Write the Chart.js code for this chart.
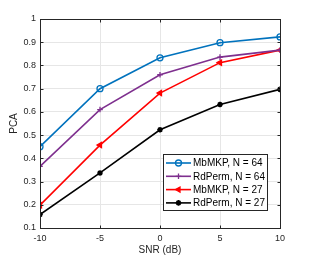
<!DOCTYPE html>
<html>
<head>
<meta charset="utf-8">
<script src="https://cdn.jsdelivr.net/npm/chart.js@4/dist/chart.umd.min.js"></script>
<style>
  html, body { margin: 0; padding: 0; background: #fff; }
  #wrap { width: 309px; height: 257px; }
</style>
</head>
<body>
<div id="wrap"><canvas id="pca-chart" width="309" height="257"></canvas></div>
<script>
// SNR values (dB) and PCA for each method
const snr = [-10, -5, 0, 5, 10];
const mbmkp64 = [0.450, 0.700, 0.833, 0.898, 0.923];
const rdperm64 = [0.365, 0.610, 0.760, 0.836, 0.866];
const mbmkp27 = [0.198, 0.457, 0.681, 0.812, 0.866];
const rdperm27 = [0.158, 0.337, 0.523, 0.632, 0.697];

const seriesNames = ['MbMKP, N = 64', 'RdPerm, N = 64', 'MbMKP, N = 27', 'RdPerm, N = 27'];

const textColor = '#262626';

function makeSet(label, values, color, style, extra) {
    return Object.assign({
        label: label,
        data: snr.map((x, i) => ({ x: x, y: values[i] })),
        borderColor: color,
        backgroundColor: color,
        borderWidth: 1.6,
        pointStyle: style,
        pointRadius: 2.8,
        pointBorderColor: color,
        pointBackgroundColor: color,
        pointBorderWidth: 1.3,
        tension: 0
    }, extra || {});
}

const datasets = [
    makeSet(seriesNames[0], mbmkp64, '#0072BD', 'circle', { pointBackgroundColor: 'rgba(0,0,0,0)', pointRadius: 3 }),
    makeSet(seriesNames[1], rdperm64, '#7E2F8E', 'cross', { pointRadius: 2.8 }),
    makeSet(seriesNames[2], mbmkp27, '#FF0000', 'triangle', { pointRotation: -90, pointRadius: 3 }),
    makeSet(seriesNames[3], rdperm27, '#000000', 'star', { pointRadius: 2.8, pointBorderWidth: 1.6 })
];

// box round the plot area, inward ticks, and an in-plot legend at the lower right
const boxLegendPlugin = {
    id: 'boxLegend',
    afterDraw: function(chart) {
        const ctx = chart.ctx;
        const a = chart.chartArea;
        const left = Math.round(a.left) + 0.5, top = Math.round(a.top) + 0.5;
        const right = Math.round(a.right) + 0.5, bottom = Math.round(a.bottom) + 0.5;
        ctx.save();
        ctx.strokeStyle = textColor;
        ctx.lineWidth = 1;
        ctx.strokeRect(left, top, right - left, bottom - top);

        // tick marks pointing into the plot
        const tl = 3;
        ctx.beginPath();
        chart.scales.x.ticks.forEach(t => {
            const px = Math.round(chart.scales.x.getPixelForValue(t.value)) + 0.5;
            ctx.moveTo(px, bottom); ctx.lineTo(px, bottom - tl);
            ctx.moveTo(px, top); ctx.lineTo(px, top + tl);
        });
        chart.scales.y.ticks.forEach(t => {
            const py = Math.round(chart.scales.y.getPixelForValue(t.value)) + 0.5;
            ctx.moveTo(left, py); ctx.lineTo(left + tl, py);
            ctx.moveTo(right, py); ctx.lineTo(right - tl, py);
        });
        ctx.stroke();

        // legend
        const lx = 163, ly = 154, lw = 104, lh = 56;
        ctx.fillStyle = '#fff';
        ctx.fillRect(lx, ly, lw, lh);
        ctx.strokeStyle = textColor;
        ctx.strokeRect(lx + 0.5, ly + 0.5, lw, lh);
        ctx.font = '10px Arial, "Liberation Sans", sans-serif';
        ctx.textBaseline = 'middle';
        chart.data.datasets.forEach((ds, i) => {
            const y = ly + 9 + i * 13.3;
            ctx.strokeStyle = ds.borderColor;
            ctx.lineWidth = 1.6;
            ctx.beginPath();
            ctx.moveTo(lx + 3, y);
            ctx.lineTo(lx + 28, y);
            ctx.stroke();
            ctx.fillStyle = ds.pointBackgroundColor;
            ctx.strokeStyle = ds.pointBorderColor;
            ctx.lineWidth = ds.pointBorderWidth;
            Chart.helpers.drawPoint(ctx, {
                pointStyle: ds.pointStyle,
                radius: ds.pointRadius,
                rotation: ds.pointRotation || 0,
                borderWidth: ds.pointBorderWidth
            }, lx + 15.5, y);
            ctx.fillStyle = '#000';
            ctx.fillText(ds.label, lx + 30, y + 0.5);
        });
        ctx.restore();
    }
};

new Chart(document.getElementById('pca-chart').getContext('2d'), {
    type: 'line',
    data: { datasets: datasets },
    plugins: [boxLegendPlugin],
    options: {
        responsive: false,
        animation: false,
        layout: { padding: { top: 19, right: 29, left: 8, bottom: 0 } },
        plugins: {
            legend: { display: false },
            tooltip: { enabled: false }
        },
        scales: {
            x: {
                type: 'linear',
                min: -10,
                max: 10,
                ticks: { stepSize: 5, color: textColor, font: { size: 9, family: 'Arial' }, padding: 5 },
                grid: { color: '#e6e6e6', drawTicks: false },
                border: { display: false },
                title: { display: true, text: 'SNR (dB)', color: textColor, font: { size: 10, family: 'Arial' }, padding: { top: 0, bottom: 1 } },
                afterFit: function(scale) { scale.height = 29; }
            },
            y: {
                min: 0.1,
                max: 1,
                ticks: {
                    stepSize: 0.1,
                    color: textColor,
                    font: { size: 9, family: 'Arial' },
                    padding: 4,
                    callback: v => String(+v.toFixed(1))
                },
                grid: { color: '#e6e6e6', drawTicks: false },
                border: { display: false },
                title: { display: true, text: 'PCA', color: textColor, font: { size: 10, family: 'Arial' }, padding: { top: 0, bottom: 1 } },
                afterFit: function(scale) { scale.width = 32; }
            }
        }
    }
});
</script>
</body>
</html>
